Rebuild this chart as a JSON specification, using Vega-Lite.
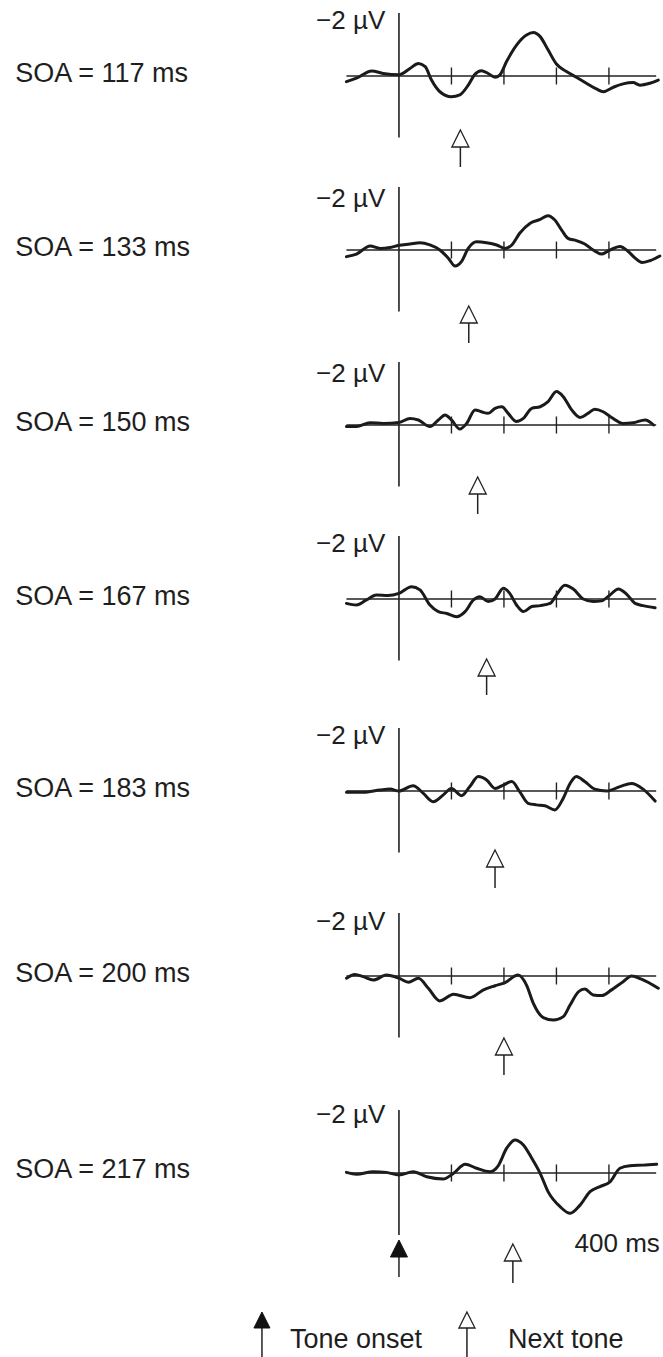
{
"$schema":"https://vega.github.io/schema/vega-lite/v6.json",
"padding":0,
"autosize":{"type":"pad"},
"spacing":0,
"bounds":"flush",
"background":"white",
"config":{"view":{"stroke":null},"axis":{"disable":true},"concat":{"spacing":0},"text":{"font":"Liberation Sans","color":"#1e1e1e"}},
"datasets":{
"ticks":[{"t":100},{"t":200},{"t":300},{"t":400}],
"soa":[{"soa":117,"label":"SOA = 117 ms"},{"soa":133,"label":"SOA = 133 ms"},{"soa":150,"label":"SOA = 150 ms"},{"soa":167,"label":"SOA = 167 ms"},{"soa":183,"label":"SOA = 183 ms"},{"soa":200,"label":"SOA = 200 ms"},{"soa":217,"label":"SOA = 217 ms"}],
"wave":[
{"soa":117,"t":-100,"uv":0.18},{"soa":117,"t":-81,"uv":0.07},{"soa":117,"t":-52,"uv":-0.16},{"soa":117,"t":-30,"uv":-0.08},{"soa":117,"t":0,"uv":-0.04},{"soa":117,"t":21,"uv":-0.24},{"soa":117,"t":37,"uv":-0.40},{"soa":117,"t":50,"uv":-0.30},{"soa":117,"t":62,"uv":0.13},{"soa":117,"t":78,"uv":0.50},{"soa":117,"t":100,"uv":0.66},{"soa":117,"t":116,"uv":0.60},{"soa":117,"t":132,"uv":0.29},{"soa":117,"t":145,"uv":-0.06},{"soa":117,"t":157,"uv":-0.17},{"soa":117,"t":170,"uv":-0.08},{"soa":117,"t":183,"uv":0.04},{"soa":117,"t":192,"uv":-0.03},{"soa":117,"t":205,"uv":-0.46},{"soa":117,"t":224,"uv":-0.98},{"soa":117,"t":243,"uv":-1.30},{"soa":117,"t":256,"uv":-1.38},{"soa":117,"t":269,"uv":-1.25},{"soa":117,"t":284,"uv":-0.83},{"soa":117,"t":300,"uv":-0.38},{"soa":117,"t":319,"uv":-0.14},{"soa":117,"t":338,"uv":0.04},{"soa":117,"t":357,"uv":0.23},{"soa":117,"t":377,"uv":0.42},{"soa":117,"t":389,"uv":0.50},{"soa":117,"t":408,"uv":0.36},{"soa":117,"t":427,"uv":0.25},{"soa":117,"t":446,"uv":0.21},{"soa":117,"t":459,"uv":0.29},{"soa":117,"t":478,"uv":0.23},{"soa":117,"t":494,"uv":0.13},
{"soa":133,"t":-100,"uv":0.21},{"soa":133,"t":-81,"uv":0.13},{"soa":133,"t":-55,"uv":-0.13},{"soa":133,"t":-36,"uv":-0.05},{"soa":133,"t":-17,"uv":-0.08},{"soa":133,"t":0,"uv":-0.15},{"soa":133,"t":21,"uv":-0.19},{"soa":133,"t":40,"uv":-0.23},{"soa":133,"t":59,"uv":-0.16},{"soa":133,"t":78,"uv":0},{"soa":133,"t":94,"uv":0.26},{"soa":133,"t":107,"uv":0.51},{"soa":133,"t":119,"uv":0.37},{"soa":133,"t":132,"uv":-0.05},{"soa":133,"t":148,"uv":-0.26},{"soa":133,"t":167,"uv":-0.23},{"soa":133,"t":186,"uv":-0.16},{"soa":133,"t":202,"uv":-0.05},{"soa":133,"t":215,"uv":-0.16},{"soa":133,"t":230,"uv":-0.53},{"soa":133,"t":250,"uv":-0.85},{"soa":133,"t":269,"uv":-0.97},{"soa":133,"t":284,"uv":-1.09},{"soa":133,"t":297,"uv":-0.95},{"soa":133,"t":310,"uv":-0.63},{"soa":133,"t":322,"uv":-0.37},{"soa":133,"t":338,"uv":-0.30},{"soa":133,"t":354,"uv":-0.19},{"soa":133,"t":370,"uv":0},{"soa":133,"t":386,"uv":0.13},{"soa":133,"t":402,"uv":0},{"soa":133,"t":421,"uv":-0.11},{"soa":133,"t":437,"uv":0.05},{"soa":133,"t":450,"uv":0.26},{"soa":133,"t":463,"uv":0.40},{"soa":133,"t":478,"uv":0.34},{"soa":133,"t":497,"uv":0.19},
{"soa":150,"t":-100,"uv":0.05},{"soa":150,"t":-81,"uv":0.05},{"soa":150,"t":-55,"uv":-0.07},{"soa":150,"t":-30,"uv":-0.05},{"soa":150,"t":0,"uv":-0.08},{"soa":150,"t":21,"uv":-0.21},{"soa":150,"t":37,"uv":-0.16},{"soa":150,"t":59,"uv":0.05},{"soa":150,"t":75,"uv":-0.16},{"soa":150,"t":88,"uv":-0.32},{"soa":150,"t":100,"uv":-0.16},{"soa":150,"t":116,"uv":0.13},{"soa":150,"t":129,"uv":-0.05},{"soa":150,"t":145,"uv":-0.48},{"soa":150,"t":157,"uv":-0.42},{"soa":150,"t":170,"uv":-0.37},{"soa":150,"t":183,"uv":-0.53},{"soa":150,"t":196,"uv":-0.58},{"soa":150,"t":208,"uv":-0.37},{"soa":150,"t":224,"uv":-0.11},{"soa":150,"t":237,"uv":-0.21},{"soa":150,"t":253,"uv":-0.53},{"soa":150,"t":269,"uv":-0.58},{"soa":150,"t":284,"uv":-0.74},{"soa":150,"t":300,"uv":-1.06},{"soa":150,"t":313,"uv":-0.90},{"soa":150,"t":329,"uv":-0.48},{"soa":150,"t":345,"uv":-0.24},{"soa":150,"t":360,"uv":-0.37},{"soa":150,"t":373,"uv":-0.50},{"soa":150,"t":389,"uv":-0.42},{"soa":150,"t":405,"uv":-0.24},{"soa":150,"t":427,"uv":-0.05},{"soa":150,"t":446,"uv":-0.07},{"soa":150,"t":469,"uv":-0.16},{"soa":150,"t":485,"uv":0},
{"soa":167,"t":-100,"uv":0.14},{"soa":167,"t":-81,"uv":0.19},{"soa":167,"t":-62,"uv":0.03},{"soa":167,"t":-43,"uv":-0.13},{"soa":167,"t":-21,"uv":-0.11},{"soa":167,"t":0,"uv":-0.18},{"soa":167,"t":24,"uv":-0.39},{"soa":167,"t":40,"uv":-0.29},{"soa":167,"t":59,"uv":0.19},{"soa":167,"t":75,"uv":0.40},{"soa":167,"t":91,"uv":0.46},{"soa":167,"t":110,"uv":0.56},{"soa":167,"t":126,"uv":0.40},{"soa":167,"t":142,"uv":0.03},{"soa":167,"t":154,"uv":-0.07},{"soa":167,"t":170,"uv":0.08},{"soa":167,"t":183,"uv":0},{"soa":167,"t":199,"uv":-0.34},{"soa":167,"t":211,"uv":-0.18},{"soa":167,"t":224,"uv":0.19},{"soa":167,"t":237,"uv":0.40},{"soa":167,"t":253,"uv":0.24},{"soa":167,"t":269,"uv":0.21},{"soa":167,"t":288,"uv":0.14},{"soa":167,"t":300,"uv":-0.13},{"soa":167,"t":316,"uv":-0.44},{"soa":167,"t":332,"uv":-0.32},{"soa":167,"t":351,"uv":0},{"soa":167,"t":370,"uv":0.08},{"soa":167,"t":386,"uv":0.06},{"soa":167,"t":402,"uv":-0.13},{"soa":167,"t":418,"uv":-0.32},{"soa":167,"t":434,"uv":-0.15},{"soa":167,"t":450,"uv":0.14},{"soa":167,"t":465,"uv":0.21},{"soa":167,"t":488,"uv":0.28},
{"soa":183,"t":-100,"uv":0.04},{"soa":183,"t":-68,"uv":0.04},{"soa":183,"t":-36,"uv":-0.03},{"soa":183,"t":-17,"uv":-0.06},{"soa":183,"t":0,"uv":0},{"soa":183,"t":27,"uv":-0.17},{"soa":183,"t":46,"uv":0.07},{"soa":183,"t":65,"uv":0.34},{"soa":183,"t":84,"uv":0.13},{"soa":183,"t":100,"uv":-0.08},{"soa":183,"t":119,"uv":0.15},{"soa":183,"t":135,"uv":-0.14},{"soa":183,"t":151,"uv":-0.46},{"soa":183,"t":167,"uv":-0.35},{"soa":183,"t":183,"uv":-0.08},{"soa":183,"t":199,"uv":-0.19},{"soa":183,"t":215,"uv":-0.30},{"soa":183,"t":230,"uv":0.02},{"soa":183,"t":246,"uv":0.39},{"soa":183,"t":262,"uv":0.44},{"soa":183,"t":278,"uv":0.47},{"soa":183,"t":297,"uv":0.60},{"soa":183,"t":313,"uv":0.23},{"soa":183,"t":326,"uv":-0.24},{"soa":183,"t":338,"uv":-0.46},{"soa":183,"t":354,"uv":-0.30},{"soa":183,"t":373,"uv":-0.06},{"soa":183,"t":396,"uv":0},{"soa":183,"t":421,"uv":-0.14},{"soa":183,"t":443,"uv":-0.24},{"soa":183,"t":465,"uv":-0.06},{"soa":183,"t":488,"uv":0.32},
{"soa":200,"t":-100,"uv":0.07},{"soa":200,"t":-84,"uv":-0.05},{"soa":200,"t":-68,"uv":0.02},{"soa":200,"t":-49,"uv":0.13},{"soa":200,"t":-24,"uv":-0.03},{"soa":200,"t":0,"uv":0.07},{"soa":200,"t":18,"uv":0.20},{"soa":200,"t":37,"uv":0.07},{"soa":200,"t":56,"uv":0.39},{"soa":200,"t":78,"uv":0.79},{"soa":200,"t":104,"uv":0.58},{"soa":200,"t":135,"uv":0.69},{"soa":200,"t":161,"uv":0.44},{"soa":200,"t":183,"uv":0.31},{"soa":200,"t":202,"uv":0.21},{"soa":200,"t":227,"uv":-0.03},{"soa":200,"t":243,"uv":0.29},{"soa":200,"t":256,"uv":0.87},{"soa":200,"t":275,"uv":1.32},{"soa":200,"t":294,"uv":1.40},{"soa":200,"t":313,"uv":1.29},{"soa":200,"t":326,"uv":0.92},{"soa":200,"t":342,"uv":0.50},{"soa":200,"t":354,"uv":0.41},{"soa":200,"t":370,"uv":0.60},{"soa":200,"t":386,"uv":0.62},{"soa":200,"t":405,"uv":0.44},{"soa":200,"t":427,"uv":0.18},{"soa":200,"t":443,"uv":0},{"soa":200,"t":462,"uv":0.10},{"soa":200,"t":494,"uv":0.39},
{"soa":217,"t":-100,"uv":-0.02},{"soa":217,"t":-81,"uv":0.04},{"soa":217,"t":-49,"uv":-0.04},{"soa":217,"t":-24,"uv":-0.02},{"soa":217,"t":0,"uv":0.06},{"soa":217,"t":27,"uv":-0.04},{"soa":217,"t":53,"uv":0.12},{"soa":217,"t":84,"uv":0.19},{"soa":217,"t":104,"uv":0.01},{"soa":217,"t":126,"uv":-0.28},{"soa":217,"t":148,"uv":-0.15},{"soa":217,"t":173,"uv":-0.04},{"soa":217,"t":189,"uv":-0.23},{"soa":217,"t":205,"uv":-0.78},{"soa":217,"t":221,"uv":-1.05},{"soa":217,"t":237,"uv":-0.89},{"soa":217,"t":253,"uv":-0.47},{"soa":217,"t":269,"uv":0.01},{"soa":217,"t":284,"uv":0.59},{"soa":217,"t":307,"uv":1.07},{"soa":217,"t":326,"uv":1.28},{"soa":217,"t":345,"uv":1.02},{"soa":217,"t":364,"uv":0.59},{"soa":217,"t":383,"uv":0.43},{"soa":217,"t":402,"uv":0.28},{"soa":217,"t":421,"uv":-0.15},{"soa":217,"t":440,"uv":-0.23},{"soa":217,"t":465,"uv":-0.25},{"soa":217,"t":491,"uv":-0.28}
]},
"vconcat":[
{"width":663,"height":175,"layer":[
{"data":{"name":"wave"},"transform":[{"filter":"datum.soa === 117"}],"mark":{"type":"line","interpolate":"monotone","strokeWidth":3,"color":"#1a1a1a","strokeJoin":"round","strokeCap":"round"},"encoding":{"x":{"field":"t","type":"quantitative","scale":{"domain":[-760,503],"nice":false,"zero":false}},"y":{"field":"uv","type":"quantitative","scale":{"domain":[-2.4127,3.1429],"reverse":true,"nice":false,"zero":false}}}},
{"data":{"values":[{}]},"mark":{"type":"rule","strokeWidth":1.4,"color":"#222"},"encoding":{"x":{"datum":-100},"x2":{"datum":490},"y":{"datum":0}}},
{"data":{"values":[{}]},"mark":{"type":"rule","strokeWidth":1.6,"color":"#222"},"encoding":{"x":{"datum":0},"y":{"datum":-2},"y2":{"datum":1.95}}},
{"data":{"name":"ticks"},"mark":{"type":"rule","strokeWidth":1.4,"color":"#222"},"encoding":{"x":{"field":"t","type":"quantitative"},"y":{"datum":-0.27},"y2":{"datum":0.27}}},
{"data":{"values":[{}]},"mark":{"type":"text","align":"right","baseline":"alphabetic","fontSize":26},"encoding":{"x":{"datum":-26},"y":{"datum":-1.48},"text":{"value":"−2 µV"}}},
{"data":{"name":"soa"},"transform":[{"filter":"datum.soa === 117"}],"mark":{"type":"text","align":"left","baseline":"alphabetic","fontSize":27},"encoding":{"x":{"datum":-731},"y":{"datum":0.2},"text":{"field":"label"}}},
{"data":{"name":"soa"},"transform":[{"filter":"datum.soa === 117"}],"mark":{"type":"rule","strokeWidth":1.5,"color":"#222"},"encoding":{"x":{"field":"soa","type":"quantitative"},"y":{"datum":2.254},"y2":{"datum":2.889}}},
{"data":{"name":"soa"},"transform":[{"filter":"datum.soa === 117"}],"mark":{"type":"point","shape":"M0,-1L1,1L-1,1Z","size":289,"filled":true,"fill":"white","stroke":"#222","strokeWidth":1.3,"opacity":1},"encoding":{"x":{"field":"soa","type":"quantitative"},"y":{"datum":1.984}}}
]},
{"width":663,"height":175,"layer":[
{"data":{"name":"wave"},"transform":[{"filter":"datum.soa === 133"}],"mark":{"type":"line","interpolate":"monotone","strokeWidth":3,"color":"#1a1a1a","strokeJoin":"round","strokeCap":"round"},"encoding":{"x":{"field":"t","type":"quantitative","scale":{"domain":[-760,503],"nice":false,"zero":false}},"y":{"field":"uv","type":"quantitative","scale":{"domain":[-2.381,3.1746],"reverse":true,"nice":false,"zero":false}}}},
{"data":{"values":[{}]},"mark":{"type":"rule","strokeWidth":1.4,"color":"#222"},"encoding":{"x":{"datum":-100},"x2":{"datum":490},"y":{"datum":0}}},
{"data":{"values":[{}]},"mark":{"type":"rule","strokeWidth":1.6,"color":"#222"},"encoding":{"x":{"datum":0},"y":{"datum":-2},"y2":{"datum":1.95}}},
{"data":{"name":"ticks"},"mark":{"type":"rule","strokeWidth":1.4,"color":"#222"},"encoding":{"x":{"field":"t","type":"quantitative"},"y":{"datum":-0.27},"y2":{"datum":0.27}}},
{"data":{"values":[{}]},"mark":{"type":"text","align":"right","baseline":"alphabetic","fontSize":26},"encoding":{"x":{"datum":-26},"y":{"datum":-1.37},"text":{"value":"−2 µV"}}},
{"data":{"name":"soa"},"transform":[{"filter":"datum.soa === 133"}],"mark":{"type":"text","align":"left","baseline":"alphabetic","fontSize":27},"encoding":{"x":{"datum":-731},"y":{"datum":0.2},"text":{"field":"label"}}},
{"data":{"name":"soa"},"transform":[{"filter":"datum.soa === 133"}],"mark":{"type":"rule","strokeWidth":1.5,"color":"#222"},"encoding":{"x":{"field":"soa","type":"quantitative"},"y":{"datum":2.318},"y2":{"datum":2.952}}},
{"data":{"name":"soa"},"transform":[{"filter":"datum.soa === 133"}],"mark":{"type":"point","shape":"M0,-1L1,1L-1,1Z","size":289,"filled":true,"fill":"white","stroke":"#222","strokeWidth":1.3,"opacity":1},"encoding":{"x":{"field":"soa","type":"quantitative"},"y":{"datum":2.048}}}
]},
{"width":663,"height":175,"layer":[
{"data":{"name":"wave"},"transform":[{"filter":"datum.soa === 150"}],"mark":{"type":"line","interpolate":"monotone","strokeWidth":3,"color":"#1a1a1a","strokeJoin":"round","strokeCap":"round"},"encoding":{"x":{"field":"t","type":"quantitative","scale":{"domain":[-760,503],"nice":false,"zero":false}},"y":{"field":"uv","type":"quantitative","scale":{"domain":[-2.381,3.1746],"reverse":true,"nice":false,"zero":false}}}},
{"data":{"values":[{}]},"mark":{"type":"rule","strokeWidth":1.4,"color":"#222"},"encoding":{"x":{"datum":-100},"x2":{"datum":490},"y":{"datum":0}}},
{"data":{"values":[{}]},"mark":{"type":"rule","strokeWidth":1.6,"color":"#222"},"encoding":{"x":{"datum":0},"y":{"datum":-2},"y2":{"datum":1.95}}},
{"data":{"name":"ticks"},"mark":{"type":"rule","strokeWidth":1.4,"color":"#222"},"encoding":{"x":{"field":"t","type":"quantitative"},"y":{"datum":-0.27},"y2":{"datum":0.27}}},
{"data":{"values":[{}]},"mark":{"type":"text","align":"right","baseline":"alphabetic","fontSize":26},"encoding":{"x":{"datum":-26},"y":{"datum":-1.37},"text":{"value":"−2 µV"}}},
{"data":{"name":"soa"},"transform":[{"filter":"datum.soa === 150"}],"mark":{"type":"text","align":"left","baseline":"alphabetic","fontSize":27},"encoding":{"x":{"datum":-731},"y":{"datum":0.2},"text":{"field":"label"}}},
{"data":{"name":"soa"},"transform":[{"filter":"datum.soa === 150"}],"mark":{"type":"rule","strokeWidth":1.5,"color":"#222"},"encoding":{"x":{"field":"soa","type":"quantitative"},"y":{"datum":2.191},"y2":{"datum":2.825}}},
{"data":{"name":"soa"},"transform":[{"filter":"datum.soa === 150"}],"mark":{"type":"point","shape":"M0,-1L1,1L-1,1Z","size":289,"filled":true,"fill":"white","stroke":"#222","strokeWidth":1.3,"opacity":1},"encoding":{"x":{"field":"soa","type":"quantitative"},"y":{"datum":1.921}}}
]},
{"width":663,"height":175,"layer":[
{"data":{"name":"wave"},"transform":[{"filter":"datum.soa === 167"}],"mark":{"type":"line","interpolate":"monotone","strokeWidth":3,"color":"#1a1a1a","strokeJoin":"round","strokeCap":"round"},"encoding":{"x":{"field":"t","type":"quantitative","scale":{"domain":[-760,503],"nice":false,"zero":false}},"y":{"field":"uv","type":"quantitative","scale":{"domain":[-2.3492,3.2063],"reverse":true,"nice":false,"zero":false}}}},
{"data":{"values":[{}]},"mark":{"type":"rule","strokeWidth":1.4,"color":"#222"},"encoding":{"x":{"datum":-100},"x2":{"datum":490},"y":{"datum":0}}},
{"data":{"values":[{}]},"mark":{"type":"rule","strokeWidth":1.6,"color":"#222"},"encoding":{"x":{"datum":0},"y":{"datum":-2},"y2":{"datum":1.95}}},
{"data":{"name":"ticks"},"mark":{"type":"rule","strokeWidth":1.4,"color":"#222"},"encoding":{"x":{"field":"t","type":"quantitative"},"y":{"datum":-0.27},"y2":{"datum":0.27}}},
{"data":{"values":[{}]},"mark":{"type":"text","align":"right","baseline":"alphabetic","fontSize":26},"encoding":{"x":{"datum":-26},"y":{"datum":-1.5},"text":{"value":"−2 µV"}}},
{"data":{"name":"soa"},"transform":[{"filter":"datum.soa === 167"}],"mark":{"type":"text","align":"left","baseline":"alphabetic","fontSize":27},"encoding":{"x":{"datum":-731},"y":{"datum":0.2},"text":{"field":"label"}}},
{"data":{"name":"soa"},"transform":[{"filter":"datum.soa === 167"}],"mark":{"type":"rule","strokeWidth":1.5,"color":"#222"},"encoding":{"x":{"field":"soa","type":"quantitative"},"y":{"datum":2.445},"y2":{"datum":3.048}}},
{"data":{"name":"soa"},"transform":[{"filter":"datum.soa === 167"}],"mark":{"type":"point","shape":"M0,-1L1,1L-1,1Z","size":289,"filled":true,"fill":"white","stroke":"#222","strokeWidth":1.3,"opacity":1},"encoding":{"x":{"field":"soa","type":"quantitative"},"y":{"datum":2.175}}}
]},
{"width":663,"height":185,"layer":[
{"data":{"name":"wave"},"transform":[{"filter":"datum.soa === 183"}],"mark":{"type":"line","interpolate":"monotone","strokeWidth":3,"color":"#1a1a1a","strokeJoin":"round","strokeCap":"round"},"encoding":{"x":{"field":"t","type":"quantitative","scale":{"domain":[-760,503],"nice":false,"zero":false}},"y":{"field":"uv","type":"quantitative","scale":{"domain":[-2.8889,2.9841],"reverse":true,"nice":false,"zero":false}}}},
{"data":{"values":[{}]},"mark":{"type":"rule","strokeWidth":1.4,"color":"#222"},"encoding":{"x":{"datum":-100},"x2":{"datum":490},"y":{"datum":0}}},
{"data":{"values":[{}]},"mark":{"type":"rule","strokeWidth":1.6,"color":"#222"},"encoding":{"x":{"datum":0},"y":{"datum":-2},"y2":{"datum":1.95}}},
{"data":{"name":"ticks"},"mark":{"type":"rule","strokeWidth":1.4,"color":"#222"},"encoding":{"x":{"field":"t","type":"quantitative"},"y":{"datum":-0.27},"y2":{"datum":0.27}}},
{"data":{"values":[{}]},"mark":{"type":"text","align":"right","baseline":"alphabetic","fontSize":26},"encoding":{"x":{"datum":-26},"y":{"datum":-1.48},"text":{"value":"−2 µV"}}},
{"data":{"name":"soa"},"transform":[{"filter":"datum.soa === 183"}],"mark":{"type":"text","align":"left","baseline":"alphabetic","fontSize":27},"encoding":{"x":{"datum":-731},"y":{"datum":0.2},"text":{"field":"label"}}},
{"data":{"name":"soa"},"transform":[{"filter":"datum.soa === 183"}],"mark":{"type":"rule","strokeWidth":1.5,"color":"#222"},"encoding":{"x":{"field":"soa","type":"quantitative"},"y":{"datum":2.413},"y2":{"datum":3.079}}},
{"data":{"name":"soa"},"transform":[{"filter":"datum.soa === 183"}],"mark":{"type":"point","shape":"M0,-1L1,1L-1,1Z","size":289,"filled":true,"fill":"white","stroke":"#222","strokeWidth":1.3,"opacity":1},"encoding":{"x":{"field":"soa","type":"quantitative"},"y":{"datum":2.143}}}
]},
{"width":663,"height":185,"layer":[
{"data":{"name":"wave"},"transform":[{"filter":"datum.soa === 200"}],"mark":{"type":"line","interpolate":"monotone","strokeWidth":3,"color":"#1a1a1a","strokeJoin":"round","strokeCap":"round"},"encoding":{"x":{"field":"t","type":"quantitative","scale":{"domain":[-760,503],"nice":false,"zero":false}},"y":{"field":"uv","type":"quantitative","scale":{"domain":[-2.8889,2.9841],"reverse":true,"nice":false,"zero":false}}}},
{"data":{"values":[{}]},"mark":{"type":"rule","strokeWidth":1.4,"color":"#222"},"encoding":{"x":{"datum":-100},"x2":{"datum":490},"y":{"datum":0}}},
{"data":{"values":[{}]},"mark":{"type":"rule","strokeWidth":1.6,"color":"#222"},"encoding":{"x":{"datum":0},"y":{"datum":-2},"y2":{"datum":1.95}}},
{"data":{"name":"ticks"},"mark":{"type":"rule","strokeWidth":1.4,"color":"#222"},"encoding":{"x":{"field":"t","type":"quantitative"},"y":{"datum":-0.27},"y2":{"datum":0.27}}},
{"data":{"values":[{}]},"mark":{"type":"text","align":"right","baseline":"alphabetic","fontSize":26},"encoding":{"x":{"datum":-26},"y":{"datum":-1.46},"text":{"value":"−2 µV"}}},
{"data":{"name":"soa"},"transform":[{"filter":"datum.soa === 200"}],"mark":{"type":"text","align":"left","baseline":"alphabetic","fontSize":27},"encoding":{"x":{"datum":-731},"y":{"datum":0.2},"text":{"field":"label"}}},
{"data":{"name":"soa"},"transform":[{"filter":"datum.soa === 200"}],"mark":{"type":"rule","strokeWidth":1.5,"color":"#222"},"encoding":{"x":{"field":"soa","type":"quantitative"},"y":{"datum":2.508},"y2":{"datum":3.143}}},
{"data":{"name":"soa"},"transform":[{"filter":"datum.soa === 200"}],"mark":{"type":"point","shape":"M0,-1L1,1L-1,1Z","size":289,"filled":true,"fill":"white","stroke":"#222","strokeWidth":1.3,"opacity":1},"encoding":{"x":{"field":"soa","type":"quantitative"},"y":{"datum":2.238}}}
]},
{"width":663,"height":287,"layer":[
{"data":{"name":"wave"},"transform":[{"filter":"datum.soa === 217"}],"mark":{"type":"line","interpolate":"monotone","strokeWidth":3,"color":"#1a1a1a","strokeJoin":"round","strokeCap":"round"},"encoding":{"x":{"field":"t","type":"quantitative","scale":{"domain":[-760,503],"nice":false,"zero":false}},"y":{"field":"uv","type":"quantitative","scale":{"domain":[-3.2698,5.8413],"reverse":true,"nice":false,"zero":false}}}},
{"data":{"values":[{}]},"mark":{"type":"rule","strokeWidth":1.4,"color":"#222"},"encoding":{"x":{"datum":-100},"x2":{"datum":490},"y":{"datum":0}}},
{"data":{"values":[{}]},"mark":{"type":"rule","strokeWidth":1.6,"color":"#222"},"encoding":{"x":{"datum":0},"y":{"datum":-2},"y2":{"datum":1.97}}},
{"data":{"name":"ticks"},"mark":{"type":"rule","strokeWidth":1.4,"color":"#222"},"encoding":{"x":{"field":"t","type":"quantitative"},"y":{"datum":-0.27},"y2":{"datum":0.27}}},
{"data":{"values":[{}]},"mark":{"type":"text","align":"right","baseline":"alphabetic","fontSize":26},"encoding":{"x":{"datum":-26},"y":{"datum":-1.59},"text":{"value":"−2 µV"}}},
{"data":{"name":"soa"},"transform":[{"filter":"datum.soa === 217"}],"mark":{"type":"text","align":"left","baseline":"alphabetic","fontSize":27},"encoding":{"x":{"datum":-731},"y":{"datum":0.16},"text":{"field":"label"}}},
{"data":{"name":"soa"},"transform":[{"filter":"datum.soa === 217"}],"mark":{"type":"rule","strokeWidth":1.5,"color":"#222"},"encoding":{"x":{"field":"soa","type":"quantitative"},"y":{"datum":2.794},"y2":{"datum":3.49}}},
{"data":{"name":"soa"},"transform":[{"filter":"datum.soa === 217"}],"mark":{"type":"point","shape":"M0,-1L1,1L-1,1Z","size":289,"filled":true,"fill":"white","stroke":"#222","strokeWidth":1.3,"opacity":1},"encoding":{"x":{"field":"soa","type":"quantitative"},"y":{"datum":2.524}}},
{"data":{"values":[{}]},"mark":{"type":"text","align":"right","baseline":"alphabetic","fontSize":26},"encoding":{"x":{"datum":497},"y":{"datum":2.508},"text":{"value":"400 ms"}}},
{"data":{"values":[{}]},"mark":{"type":"rule","strokeWidth":1.5,"color":"#222"},"encoding":{"x":{"datum":0},"y":{"datum":2.667},"y2":{"datum":3.3}}},
{"data":{"values":[{}]},"mark":{"type":"point","shape":"M0,-1L1,1L-1,1Z","size":289,"filled":true,"fill":"#111","stroke":"#111","strokeWidth":1,"opacity":1},"encoding":{"x":{"datum":0},"y":{"datum":2.397}}},
{"data":{"values":[{}]},"mark":{"type":"rule","strokeWidth":1.5,"color":"#222"},"encoding":{"x":{"datum":-261},"y":{"datum":4.92},"y2":{"datum":5.84}}},
{"data":{"values":[{}]},"mark":{"type":"point","shape":"M0,-1L1,1L-1,1Z","size":256,"filled":true,"fill":"#111","stroke":"#111","strokeWidth":1,"opacity":1},"encoding":{"x":{"datum":-261},"y":{"datum":4.667}}},
{"data":{"values":[{}]},"mark":{"type":"rule","strokeWidth":1.5,"color":"#222"},"encoding":{"x":{"datum":129.5},"y":{"datum":4.92},"y2":{"datum":5.84}}},
{"data":{"values":[{}]},"mark":{"type":"point","shape":"M0,-1L1,1L-1,1Z","size":256,"filled":true,"fill":"white","stroke":"#222","strokeWidth":1.3,"opacity":1},"encoding":{"x":{"datum":129.5},"y":{"datum":4.667}}},
{"data":{"values":[{}]},"mark":{"type":"text","align":"left","baseline":"alphabetic","fontSize":27},"encoding":{"x":{"datum":-207.6},"y":{"datum":5.556},"text":{"value":"Tone onset"}}},
{"data":{"values":[{}]},"mark":{"type":"text","align":"left","baseline":"alphabetic","fontSize":27},"encoding":{"x":{"datum":207.6},"y":{"datum":5.556},"text":{"value":"Next tone"}}}
]}
]
}
